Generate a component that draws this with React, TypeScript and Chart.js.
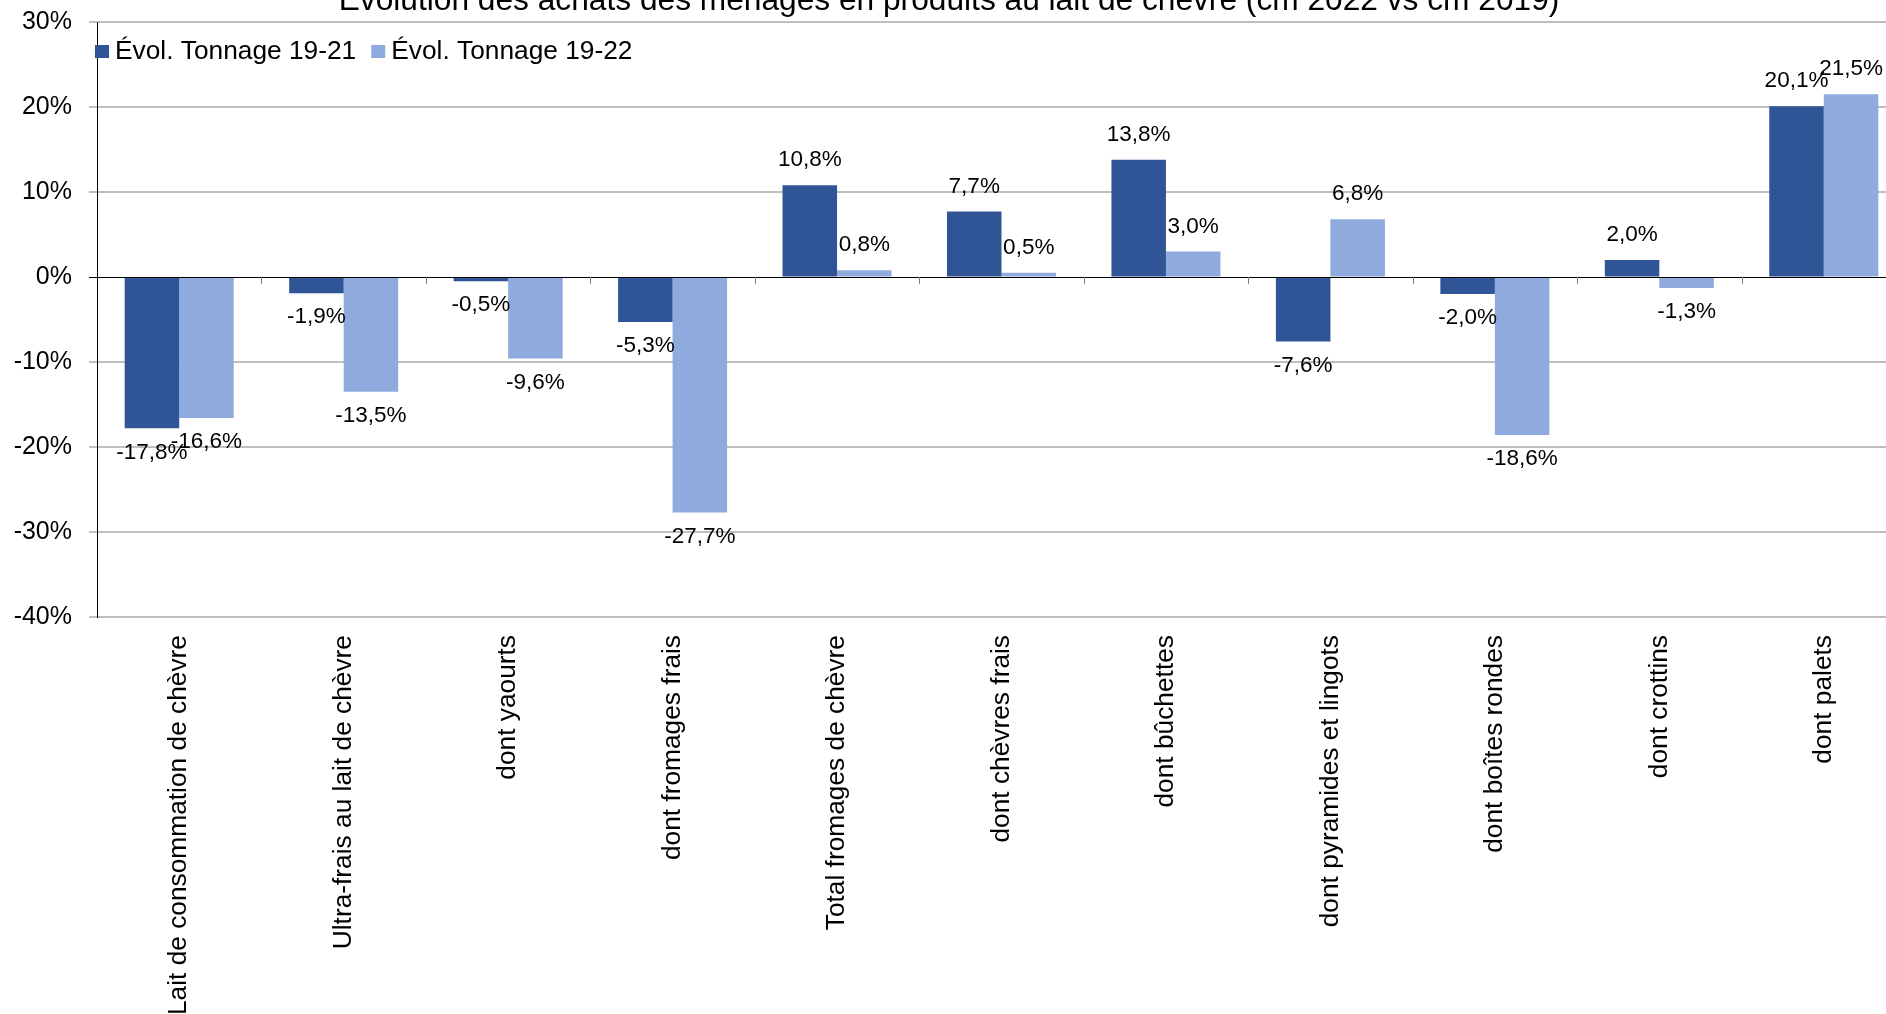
import React, { useEffect, useRef } from 'react';
import { Chart, registerables } from 'chart.js';

Chart.register(...registerables);

const categories = [
  'Lait de consommation de chèvre',
  'Ultra-frais au lait de chèvre',
  'dont yaourts',
  'dont fromages frais',
  'Total fromages de chèvre',
  'dont chèvres frais',
  'dont bûchettes',
  'dont pyramides et lingots',
  'dont boîtes rondes',
  'dont crottins',
  'dont palets',
];
const evol1921 = [-17.8, -1.9, -0.5, -5.3, 10.8, 7.7, 13.8, -7.6, -2.0, 2.0, 20.1];
const evol1922 = [-16.6, -13.5, -9.6, -27.7, 0.8, 0.5, 3.0, 6.8, -18.6, -1.3, 21.5];
const seriesLabels = ['Évol. Tonnage 19-21', 'Évol. Tonnage 19-22'];
const seriesColors = ['#2F5597', '#8FAADC'];
const yMin = -40;
const yMax = 30;
const yStep = 10;
const titleText = 'Évolution des achats des ménages en produits au lait de chèvre (cm 2022 vs cm 2019)';

const FONT = "'Liberation Sans', Arial, sans-serif";
const CANVAS_W = 1906;
const CANVAS_H = 1014;

const fmt = (v: number) => v.toFixed(1).replace('.', ',') + '%';

const customPlugin = {
  id: 'customDraw',
  afterDatasetsDraw(chart: any) {
    const { ctx, chartArea, scales } = chart;
    const x = scales.x;
    const y = scales.y;
    const y0 = Math.round(y.getPixelForValue(0));
    ctx.save();

    // zero axis line
    ctx.strokeStyle = '#000';
    ctx.lineWidth = 1;
    ctx.beginPath();
    ctx.moveTo(chartArea.left, y0 + 0.5);
    ctx.lineTo(chartArea.right, y0 + 0.5);
    ctx.stroke();

    // category boundary tick marks on zero line
    ctx.strokeStyle = '#808080';
    ctx.lineWidth = 1;
    for (let i = 1; i <= categories.length; i++) {
      const bx = Math.round(x.getPixelForValue(i - 0.5)) + 0.5;
      ctx.beginPath();
      ctx.moveTo(bx, y0);
      ctx.lineTo(bx, y0 + 7);
      ctx.stroke();
    }

    // data labels
    ctx.fillStyle = '#000';
    ctx.font = `22.5px ${FONT}`;
    ctx.textAlign = 'center';
    ctx.textBaseline = 'middle';
    chart.data.datasets.forEach((ds: any, di: number) => {
      const meta = chart.getDatasetMeta(di);
      meta.data.forEach((el: any, i: number) => {
        const v = ds.data[i] as number;
        const ty = v >= 0 ? el.y - 25 : el.y + 24;
        ctx.fillText(fmt(v), el.x, ty);
      });
    });

    // legend
    ctx.font = `26.3px ${FONT}`;
    ctx.textAlign = 'left';
    ctx.textBaseline = 'middle';
    let lx = 95;
    const ly = 51.5;
    seriesLabels.forEach((lab, i) => {
      ctx.fillStyle = seriesColors[i];
      ctx.fillRect(lx, ly - 6.5, 14, 13);
      ctx.fillStyle = '#000';
      ctx.fillText(lab, lx + 20, ly);
      lx += 20 + ctx.measureText(lab).width + 15;
    });

    // title (partly cut off at the top)
    ctx.font = `31.7px ${FONT}`;
    ctx.textAlign = 'center';
    ctx.textBaseline = 'alphabetic';
    ctx.fillText(titleText, 949, 9.5);

    ctx.restore();
  },
};

export default function App() {
  const ref = useRef<HTMLCanvasElement | null>(null);

  useEffect(() => {
    if (!ref.current) return;
    const chart = new Chart(ref.current, {
      type: 'bar',
      data: {
        labels: categories,
        datasets: [
          {
            label: seriesLabels[0],
            data: evol1921,
            backgroundColor: seriesColors[0],
            categoryPercentage: 0.663,
            barPercentage: 1.0,
          },
          {
            label: seriesLabels[1],
            data: evol1922,
            backgroundColor: seriesColors[1],
            categoryPercentage: 0.663,
            barPercentage: 1.0,
          },
        ],
      },
      options: {
        responsive: false,
        devicePixelRatio: 1,
        animation: false,
        layout: { padding: { top: 22, left: 0, right: 0, bottom: 0 } },
        plugins: {
          legend: { display: false },
          title: { display: false },
          tooltip: { enabled: false },
        },
        scales: {
          x: {
            offset: true,
            grid: { display: false, drawTicks: false },
            border: { display: false },
            ticks: {
              autoSkip: false,
              minRotation: 90,
              maxRotation: 90,
              padding: 18,
              color: '#000',
              font: { family: FONT, size: 26.3 },
            },
            afterFit: (s: any) => {
              s.height = 397;
              s.paddingLeft = 0;
              s.paddingRight = 0;
            },
          },
          y: {
            min: yMin,
            max: yMax,
            ticks: {
              stepSize: yStep,
              callback: (v: any) => `${v}%`,
              color: '#000',
              font: { family: FONT, size: 25 },
              padding: 17,
            },
            grid: {
              color: (c: any) => (c.tick && c.tick.value === 0 ? '#000' : '#BFBFBF'),
              lineWidth: (c: any) => (c.tick && c.tick.value === 0 ? 1 : 2),
              tickLength: 8,
              drawTicks: true,
            },
            border: { display: true, color: '#000', width: 1 },
            afterFit: (s: any) => {
              s.width = 97;
              s.paddingTop = 0;
              s.paddingBottom = 0;
            },
          },
        },
      },
      plugins: [customPlugin],
    });
    return () => chart.destroy();
  }, []);

  return (
    <div
      style={{
        position: 'fixed',
        left: 0,
        top: 0,
        width: 1886,
        height: 1014,
        overflow: 'hidden',
        background: '#fff',
      }}
    >
      <canvas
        ref={ref}
        width={CANVAS_W}
        height={CANVAS_H}
        style={{ display: 'block', width: CANVAS_W, height: CANVAS_H }}
      />
    </div>
  );
}
